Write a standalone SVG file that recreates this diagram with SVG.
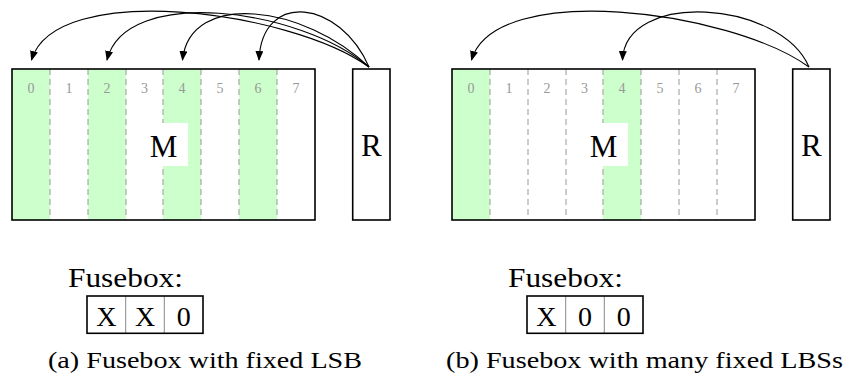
<svg xmlns="http://www.w3.org/2000/svg" width="852" height="379" viewBox="0 0 852 379">
<style>
.frame{fill:none;stroke:#000;stroke-width:1.6}
.green{fill:#ccffcc}
.dash{stroke:#999;stroke-width:1;stroke-dasharray:6,4}
.dig{font-family:"Liberation Serif",serif;font-size:14px;fill:#999;text-anchor:middle}
.big{font-family:"Liberation Serif",serif;font-size:31px;fill:#000;text-anchor:middle}
.fb{font-family:"Liberation Serif",serif;font-size:28px;fill:#000}
.cell{font-family:"Liberation Serif",serif;font-size:28px;fill:#000;text-anchor:middle}
.cap{font-family:"Liberation Serif",serif;font-size:24px;fill:#000}
.div{stroke:#888;stroke-width:1}
.arc{fill:none;stroke:#000;stroke-width:1.1;marker-end:url(#ah)}
</style>
<defs>
<marker id="ah" viewBox="0 0 10 8" refX="9" refY="4" markerWidth="10" markerHeight="8" markerUnits="userSpaceOnUse" orient="auto">
<path d="M0,0 L10,4 L0,8 Z" fill="#000"/>
</marker>
</defs>

<g id="panelA-M">
<rect class="green" x="12" y="69" width="38" height="151"/>
<rect class="green" x="88" y="69" width="38" height="151"/>
<rect class="green" x="163" y="69" width="38" height="151"/>
<rect class="green" x="239" y="69" width="38" height="151"/>
<line class="dash" x1="50" y1="69" x2="50" y2="220"/>
<line class="dash" x1="88" y1="69" x2="88" y2="220"/>
<line class="dash" x1="126" y1="69" x2="126" y2="220"/>
<line class="dash" x1="163" y1="69" x2="163" y2="220"/>
<line class="dash" x1="201" y1="69" x2="201" y2="220"/>
<line class="dash" x1="239" y1="69" x2="239" y2="220"/>
<line class="dash" x1="277" y1="69" x2="277" y2="220"/>
<text class="dig" x="31" y="93">0</text>
<text class="dig" x="69" y="93">1</text>
<text class="dig" x="107" y="93">2</text>
<text class="dig" x="144.5" y="93">3</text>
<text class="dig" x="182" y="93">4</text>
<text class="dig" x="220" y="93">5</text>
<text class="dig" x="258" y="93">6</text>
<text class="dig" x="296" y="93">7</text>
<rect x="139" y="123" width="49" height="43" fill="#fff"/>
<text class="big" x="163.5" y="156.5">M</text>
<rect class="frame" x="12" y="69" width="303" height="151"/>
</g>
<g id="panelA-R">
<rect class="frame" x="352.7" y="69" width="37.3" height="151"/>
<text class="big" x="371.4" y="156">R</text>
</g>

<g id="panelB-M">
<rect class="green" x="452" y="69" width="38" height="151"/>
<rect class="green" x="603" y="69" width="38" height="151"/>
<line class="dash" x1="490" y1="69" x2="490" y2="220"/>
<line class="dash" x1="528" y1="69" x2="528" y2="220"/>
<line class="dash" x1="566" y1="69" x2="566" y2="220"/>
<line class="dash" x1="603" y1="69" x2="603" y2="220"/>
<line class="dash" x1="641" y1="69" x2="641" y2="220"/>
<line class="dash" x1="679" y1="69" x2="679" y2="220"/>
<line class="dash" x1="717" y1="69" x2="717" y2="220"/>
<text class="dig" x="471" y="93">0</text>
<text class="dig" x="509" y="93">1</text>
<text class="dig" x="547" y="93">2</text>
<text class="dig" x="584.5" y="93">3</text>
<text class="dig" x="622" y="93">4</text>
<text class="dig" x="660" y="93">5</text>
<text class="dig" x="698" y="93">6</text>
<text class="dig" x="736" y="93">7</text>
<rect x="579" y="123" width="49" height="43" fill="#fff"/>
<text class="big" x="603.5" y="156.5">M</text>
<rect class="frame" x="452" y="69" width="303" height="151"/>
</g>
<g id="panelB-R">
<rect class="frame" x="792.7" y="69" width="37.3" height="151"/>
<text class="big" x="811.4" y="156">R</text>
</g>

<g id="connectors">
<path class="arc" d="M369,67 C290,10 55,-20 31.5,60"/>
<path class="arc" d="M369,67 C300,8 125,-15 107,60"/>
<path class="arc" d="M369,67 C305,5 190,-10 182.5,60"/>
<path class="arc" d="M369,67 C340,0 262,-10 259,60"/>
<path class="arc" d="M809,67 C730,10 495,-20 471.5,60"/>
<path class="arc" d="M809,67 C780,0 625,-10 622.5,60"/>
</g>

<g id="fuseboxA">
<text class="fb" x="68" y="286.7" textLength="115" lengthAdjust="spacingAndGlyphs">Fusebox:</text>
<line class="div" x1="125.7" y1="296" x2="125.7" y2="333.3"/>
<line class="div" x1="164.3" y1="296" x2="164.3" y2="333.3"/>
<rect class="frame" x="87" y="296" width="116" height="37.3"/>
<text class="cell" x="106.4" y="326">X</text>
<text class="cell" x="145" y="326">X</text>
<text class="cell" x="183.7" y="326">0</text>
</g>
<g id="fuseboxB">
<text class="fb" x="508" y="286.7" textLength="115" lengthAdjust="spacingAndGlyphs">Fusebox:</text>
<line class="div" x1="565.7" y1="296" x2="565.7" y2="333.3"/>
<line class="div" x1="604.3" y1="296" x2="604.3" y2="333.3"/>
<rect class="frame" x="527" y="296" width="116" height="37.3"/>
<text class="cell" x="546.4" y="326">X</text>
<text class="cell" x="585" y="326">0</text>
<text class="cell" x="623.7" y="326">0</text>
</g>

<g id="captions">
<text class="cap" x="48" y="368" textLength="314" lengthAdjust="spacingAndGlyphs">(a) Fusebox with fixed LSB</text>
<text class="cap" x="446" y="368" textLength="397" lengthAdjust="spacingAndGlyphs">(b) Fusebox with many fixed LBSs</text>
</g>
</svg>
